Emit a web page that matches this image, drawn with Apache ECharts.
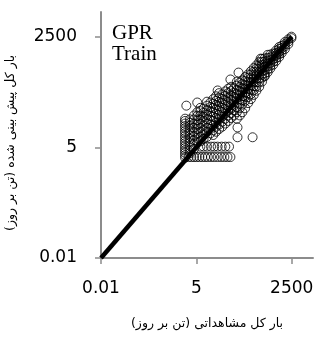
<!DOCTYPE html>
<html>
<head>
<meta charset="utf-8">
<script src="https://cdn.jsdelivr.net/npm/echarts@6/dist/echarts.min.js"></script>
<style>
html, body { margin: 0; padding: 0; background: #fff; }
#chart { width: 315px; height: 337px; }
</style>
</head>
<body>
<div id="chart"></div>
<script>
// tick labels on both log axes
var tickValues = [0.01, 5, 2500];

// 1:1 line
var fitLine = [[0.01, 0.01], [2500, 2500]];

// observed vs predicted (t/day), training set
var trainPoints = [
	[2.4,2.8],[2.4,3.2],[2.4,3.7],[2.4,4.2],[2.4,4.8],[2.4,5.5],[2.4,6.3],[2.4,7.2],[2.4,8.3],[2.4,9.5],[2.4,11],[2.4,12.5],[2.4,14.5],[2.4,16.5],[2.4,19],[2.4,22],[2.4,25],[2.6,52],
	[3.0,2.9],[3.6,2.9],[4.3,2.9],[5.1,2.9],[6.1,2.9],[7.3,2.9],[8.8,2.9],[10.5,2.9],[13,2.9],[16,2.9],[20,2.9],[25,2.9],[31,2.9],[38,2.9],[46,2.9],
	[6.5,5.2],[8,5.2],[10,5.2],[13,5.2],[16,5.2],[20,5.2],[26,5.2],[33,5.2],[42,5.2],
	[3.3,3.6],[3.3,4.4],[3.3,5.4],[3.3,6.6],[3.3,8],[3.3,9.6],[3.3,11.5],[3.3,14],[3.3,17],[3.3,20],[3.3,24],
	[4.3,4.6],[4.3,6],[4.3,7.5],[4.3,9.5],[4.3,12],[4.3,15],[4.3,19],[4.3,24],[4.3,30],
	[5.3,6.5],[5.3,8.5],[5.3,11],[5.3,14],[5.3,18],[5.3,23],[5.3,29],[5.3,36],[5.3,62],
	[6.5,7],[6.5,9],[6.5,12],[6.5,15],[6.5,19],[6.5,24],[6.5,30],[6.5,38],[6.5,46],
	[8,8],[8,10],[8,13],[8,17],[8,22],[8,28],[8,35],[8,44],
	[10,9],[10,12],[10,15],[10,19],[10,24],[10,31],[10,40],[10,52],[10,65],
	[12.5,11],[12.5,14],[12.5,18],[12.5,23],[12.5,29],[12.5,37],[12.5,48],[12.5,62],
	[15,10],[15,13],[15,17],[15,22],[15,28],[15,36],[15,46],[15,58],[15,75],
	[18,12],[18,16],[18,20],[18,26],[18,33],[18,42],[18,54],[18,68],[18,88],[20,122],
	[22,14],[22,18],[22,24],[22,31],[22,40],[22,50],[22,64],[22,82],[22,105],
	[27,16],[27,21],[27,28],[27,36],[27,46],[27,60],[27,76],[27,98],
	[33,19],[33,25],[33,33],[33,43],[33,55],[33,70],[33,90],[33,116],
	[40,22],[40,30],[40,39],[40,50],[40,64],[40,82],[40,105],[40,135],[46,226],
	[48,26],[48,34],[48,44],[48,56],[48,72],[48,92],[48,118],[48,150],
	[58,30],[58,40],[58,52],[58,66],[58,84],[58,108],[58,138],
	[70,25],[70,36],[70,48],[70,62],[70,78],[70,98],[70,124],[70,160],[70,200],
	[73,8.8],[73,15.3],[78,333],
	[85,30],[85,45],[85,58],[85,74],[85,94],[85,118],[85,150],[85,190],
	[100,36],[100,55],[100,70],[100,88],[100,110],[100,138],[100,175],[100,215],
	[120,45],[120,68],[120,86],[120,108],[120,135],[120,168],[120,210],[120,260],
	[145,60],[145,84],[145,105],[145,130],[145,162],[145,200],[145,250],[145,300],
	[175,75],[175,100],[175,128],[175,160],[175,198],[175,245],[175,300],[175,360],
	[195,8.8],
	[210,95],[210,125],[210,155],[210,195],[210,240],[210,290],[210,350],[210,430],
	[250,120],[250,155],[250,195],[250,240],[250,290],[250,350],[250,420],[250,500],
	[300,150],[300,195],[300,240],[300,290],[300,350],[300,420],[300,500],[300,600],[329,728],
	[360,200],[360,250],[360,300],[360,360],[360,430],[360,510],[360,610],[360,720],[428,281],
	[430,270],[430,320],[430,380],[430,450],[430,530],[430,620],[430,740],
	[520,340],[520,400],[520,470],[520,550],[520,650],[520,760],[520,900],
	[620,420],[620,490],[620,570],[620,670],[620,780],[620,920],
	[750,520],[750,610],[750,710],[750,830],[750,970],
	[900,640],[900,750],[900,870],[900,1000],[900,1150],[1000,965],
	[1100,800],[1100,930],[1100,1080],[1100,1250],[1100,1400],
	[1300,1000],[1300,1150],[1300,1320],[1300,1500],
	[1600,1250],[1600,1450],[1600,1650],[1600,1850],
	[2000,1650],[2000,1900],[2000,2150],
	[2450,2300],[2450,2500]
];

var axisColor = '#8c8c8c';

function logAxis(name, nameGap, labelMargin, extra) {
	var ax = {
		type: 'log',
		logBase: 500,
		min: 0.01,
		max: 10000,
		name: name,
		nameLocation: 'middle',
		nameGap: nameGap,
		nameTextStyle: { fontFamily: 'DejaVu Sans', fontSize: 12.5, color: '#000' },
		axisLine: { lineStyle: { color: axisColor, width: 2 } },
		axisTick: { show: true, length: 6, customValues: tickValues, lineStyle: { color: axisColor, width: 1.5 } },
		axisLabel: {
			customValues: tickValues,
			margin: labelMargin,
			fontFamily: 'DejaVu Sans',
			fontSize: 17,
			color: '#000',
			formatter: function (v) { return String(+Number(v).toPrecision(6)); }
		},
		splitLine: { show: false }
	};
	return Object.assign(ax, extra || {});
}

var chart = echarts.init(document.getElementById('chart'), null, { renderer: 'canvas' });
chart.setOption({
	animation: false,
	title: {
		text: 'GPR\nTrain',
		left: 112,
		top: 23,
		padding: 0,
		textStyle: { fontFamily: 'Liberation Serif', fontSize: 21, fontWeight: 'normal', lineHeight: 21, color: '#000' }
	},
	grid: { left: 101, right: 2, top: 12, bottom: 79, containLabel: false, outerBoundsMode: 'none' },
	xAxis: logAxis('\u200Fبار کل مشاهداتی (تن بر روز)\u200F', 59, 22),
	yAxis: logAxis('\u200Fبار کل پیش بینی شده (تن بر روز)\u200F', 84, 24, {
		nameRotate: 90,
		nameTextStyle: { fontFamily: 'DejaVu Sans', fontSize: 12.5, color: '#000', padding: [0, 16, 0, 0] }
	}),
	series: [
		{
			type: 'line',
			data: fitLine,
			symbol: 'none',
			lineStyle: { color: '#000', width: 4.5 },
			z: 1
		},
		{
			type: 'scatter',
			data: trainPoints,
			symbol: 'circle',
			symbolSize: 9,
			itemStyle: { color: 'rgba(0,0,0,0)', borderColor: '#000', borderWidth: 1 },
			z: 2
		}
	]
});
</script>
</body>
</html>
